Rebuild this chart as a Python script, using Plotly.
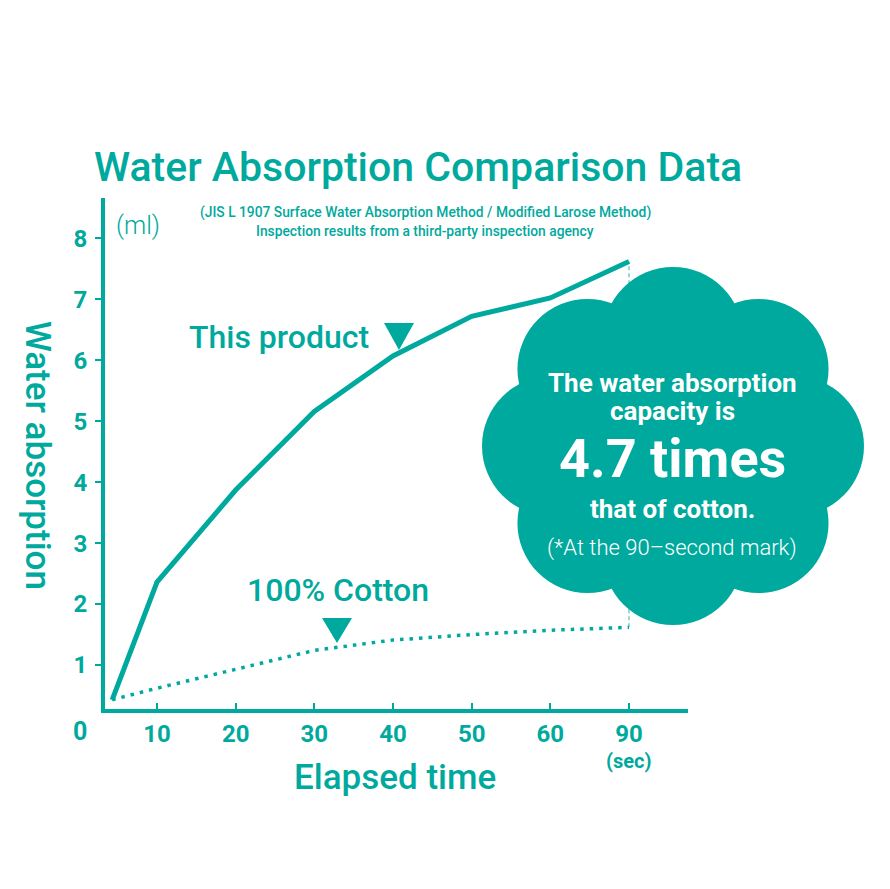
import math
import plotly.graph_objects as go

teal = "#00a99d"
W, H = 890, 889
OFF = 8  # page body margin

# x axis is compressed after 60 s: the 90 s tick sits where 70 would be
tick_pos = [10, 20, 30, 40, 50, 60, 70]
tick_labels = ["10", "20", "30", "40", "50", "60", "90"]
x_pos = [4.3, 10, 20, 30, 40, 50, 60, 70]
this_product = [0.43, 2.36, 3.87, 5.16, 6.07, 6.72, 7.02, 7.62]
cotton = [0.43, 0.62, 0.93, 1.24, 1.41, 1.50, 1.57, 1.62]
y_ticks = [1, 2, 3, 4, 5, 6, 7, 8]


def px(x):
    return (x - OFF) / W


def py(y):
    return 1 - (y - OFF) / H


fig = go.Figure()

# guide between the two 90 s values
fig.add_trace(go.Scatter(
    x=[x_pos[-1], x_pos[-1]], y=[cotton[-1], this_product[-1]],
    mode="lines", line=dict(color="rgba(0,169,157,0.6)", width=1.4, dash="4px,3px"),
    hoverinfo="skip"))

fig.add_trace(go.Scatter(
    x=x_pos, y=cotton, mode="lines", name="100% Cotton",
    line=dict(color=teal, width=3.5, dash="3.5px,6px")))

fig.add_trace(go.Scatter(
    x=x_pos, y=this_product, mode="lines", name="This product",
    line=dict(color=teal, width=5)))

font = "Roboto, Arial, sans-serif"
shapes = []

# cloud made of 8 lobes round a filled middle
cx, cy = 673, 446
for k in range(8):
    ang = math.radians(90 - 45 * k)
    lx = cx + 121 * math.cos(ang)
    ly = cy - 109 * math.sin(ang)
    shapes.append(dict(type="circle", xref="paper", yref="paper", layer="above",
                       x0=px(lx - 70), x1=px(lx + 70), y0=py(ly + 70), y1=py(ly - 70),
                       fillcolor=teal, line=dict(width=0)))
shapes.append(dict(type="circle", xref="paper", yref="paper", layer="above",
                   x0=px(cx - 130), x1=px(cx + 130), y0=py(cy + 120), y1=py(cy - 120),
                   fillcolor=teal, line=dict(width=0)))


def tri(x, top, tip, hw):
    return dict(type="path", xref="paper", yref="paper", layer="above",
                path=f"M {px(x - hw)},{py(top)} L {px(x + hw)},{py(top)} L {px(x)},{py(tip)} Z",
                fillcolor=teal, line=dict(width=0))


shapes.append(tri(399, 323, 350, 15))
shapes.append(tri(337, 618, 643, 15))

annotations = []


def note(text, x, y, size, color=teal, weight=400, angle=0):
    annotations.append(dict(text=text, x=px(x), y=py(y), xref="paper", yref="paper",
                            showarrow=False, textangle=angle, xanchor="center", yanchor="middle",
                            font=dict(family=font, size=size, color=color, weight=weight)))


note("Water Absorption Comparison Data", 418, 167, 41, weight=500)
note("(JIS L 1907 Surface Water Absorption Method / Modified Larose Method)", 425, 213, 13.8, weight=500)
note("Inspection results from a third-party inspection agency", 425, 231, 13.8, weight=500)
note("(ml)", 138, 226, 25, weight=300)
note("Water absorption", 38, 455, 35, weight=500, angle=90)
note("Elapsed time", 395, 777, 35, weight=500)
note("0", 80, 731, 25, weight=700)
note("(sec)", 629, 761, 20, weight=700)
note("This product", 279, 337, 32, weight=500)
note("100% Cotton", 338, 590, 32, weight=500)

note("The water absorption", 672, 383, 26, color="white", weight=700)
note("capacity is", 672, 411, 26, color="white", weight=700)
note("4.7 times", 672, 458, 54, color="white", weight=700)
note("that of cotton.", 672, 509, 26, color="white", weight=700)
note("(*At the 90–second mark)", 672, 548, 22, color="white", weight=300)

fig.update_layout(
    width=W, height=H, autosize=False,
    margin=dict(l=0, r=0, t=0, b=0),
    paper_bgcolor="white", plot_bgcolor="white",
    showlegend=False,
    shapes=shapes, annotations=annotations,
    xaxis=dict(domain=[px(105), px(688)], range=[3.39, 77.5],
               showline=True, linecolor=teal, linewidth=4,
               ticks="inside", ticklen=6, tickwidth=2, tickcolor=teal,
               tickvals=tick_pos, ticktext=tick_labels,
               tickfont=dict(family=font, size=24, color=teal, weight=700),
               showgrid=False, zeroline=False),
    yaxis=dict(domain=[py(709), py(198)], range=[0.279, 8.66],
               showline=True, linecolor=teal, linewidth=4,
               ticks="outside", ticklen=6, tickwidth=2, tickcolor=teal,
               tickvals=y_ticks, ticklabelstandoff=3,
               tickfont=dict(family=font, size=24, color=teal, weight=700),
               showgrid=False, zeroline=False),
)

fig.write_html("out.html")
